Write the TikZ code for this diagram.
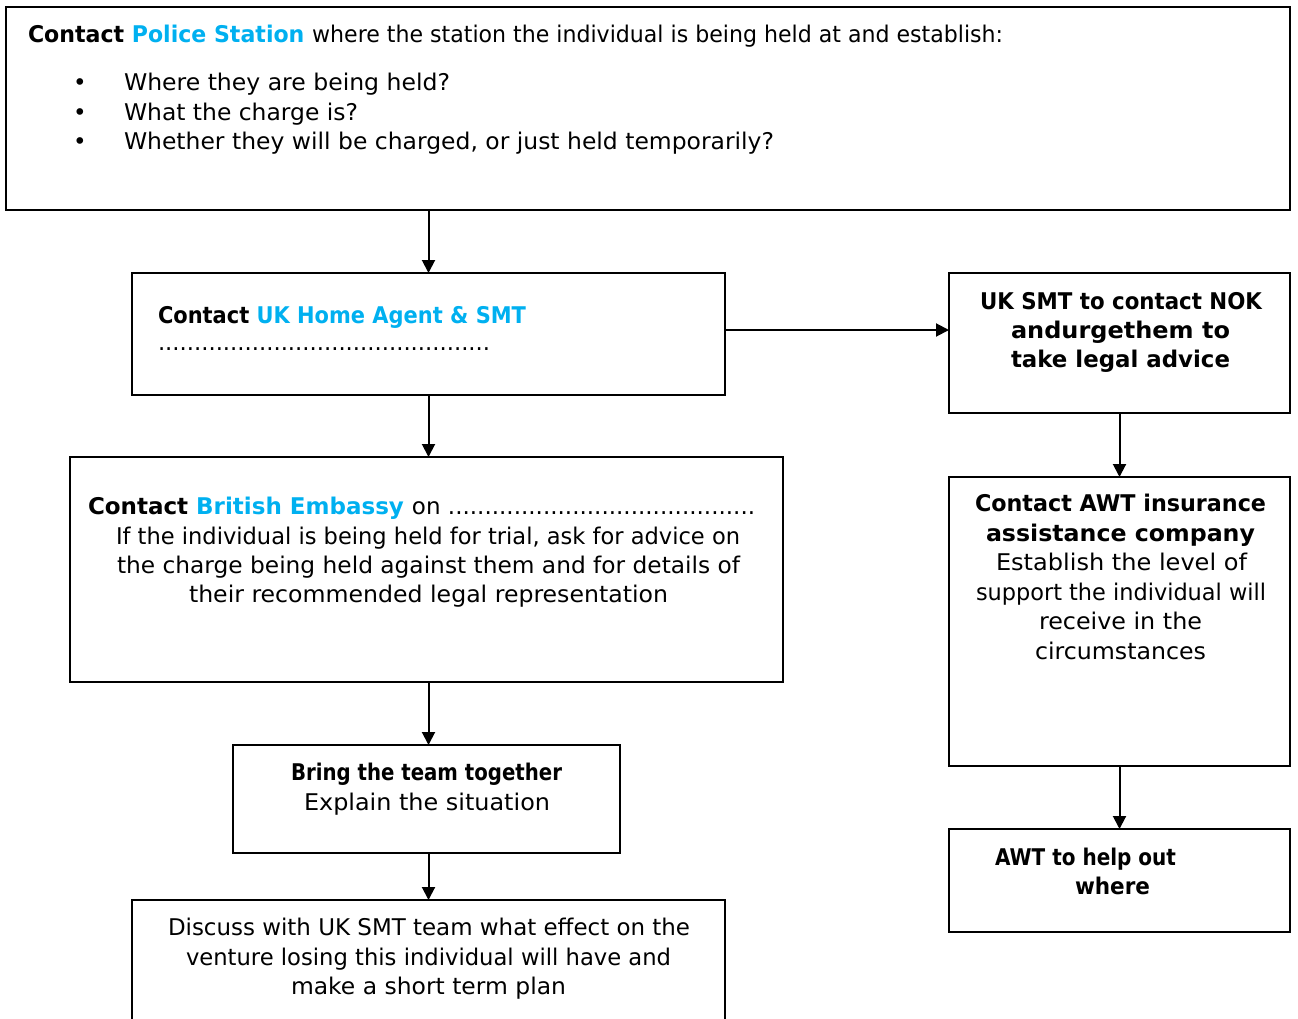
\documentclass[tikz,border=0pt]{standalone}
\usepackage{fontspec}
\setmainfont{DejaVu Sans}
\usetikzlibrary{arrows.meta}
\definecolor{linkblue}{HTML}{00B0F0}
% set a line of text to a given width (in pt), keeping its height
\newcommand\fitto[2]{\resizebox{#1pt}{\height}{#2}}

\begin{document}
\begin{tikzpicture}[x=1pt,y=-1pt,
  box/.style={draw, line width=2.2pt, anchor=north west, inner sep=0pt, outer sep=0pt},
  txt/.style={anchor=base west, inner sep=0pt, outer sep=0pt, font=\fontsize{23}{28}\selectfont},
  bul/.style={anchor=base, inner sep=0pt, outer sep=0pt, font=\fontsize{23}{28}\selectfont},
  arr/.style={line width=2pt, -{Triangle[width=13pt,length=13pt]}}]

\useasboundingbox (0,0) rectangle (1298,1019);
\begin{scope}
\clip (0,0) rectangle (1298,1019);

% boxes
\node[box, minimum width=1284pt, minimum height=203pt] (top)   at (6,7) {};
\node[box, minimum width=593pt,  minimum height=122pt] (home)  at (132,273) {};
\node[box, minimum width=341pt,  minimum height=140pt] (nok)   at (949,273) {};
\node[box, minimum width=713pt,  minimum height=225pt] (emb)   at (70,457) {};
\node[box, minimum width=341pt,  minimum height=289pt] (awt)   at (949,477) {};
\node[box, minimum width=387pt,  minimum height=108pt] (bring) at (233,745) {};
\node[box, minimum width=593pt,  minimum height=140pt] (disc)  at (132,900) {};
\node[box, minimum width=341pt,  minimum height=103pt] (help)  at (949,829) {};

% connectors
\draw[arr] (home.north |- top.south) -- (home.north);
\draw[arr] (home.south) -- (home.south |- emb.north);
\draw[arr] (home.south |- emb.south) -- (home.south |- bring.north);
\draw[arr] (home.south |- bring.south) -- (disc.north);
\draw[arr] ([yshift=4pt]home.east) -- ([yshift=4pt]home.east -| nok.west);
\draw[arr] (nok.south) -- (awt.north);
\draw[arr] (awt.south) -- (help.north);

% police station
\node[txt] (t1) at (28,43) {\fitto{975}{\bfseries Contact \textcolor{linkblue}{Police Station} \mdseries where the station the individual is being held at and establish:}};
\node[bul] (b1) at (80,91)  {•};
\node[bul] (b2) at (80,121) {•};
\node[bul] (b3) at (80,150) {•};
\node[txt] (t2) at (124,91)  {\fitto{326}{Where they are being held?}};
\node[txt] (t3) at (124,121) {\fitto{234}{What the charge is?}};
\node[txt] (t4) at (124,150) {\fitto{650}{Whether they will be charged, or just held temporarily?}};

% home agent
\node[txt] (t5) at (158,323) {\fitto{368}{\bfseries Contact \textcolor{linkblue}{UK Home Agent \& SMT}}};
\node[txt] (t6) at (158,350) {\fitto{332}{..............................................}};

% next of kin
\node[txt] (t7) at (980,309)  {\fitto{282}{\bfseries UK SMT to contact NOK}};
\node[txt] (t8) at (1011,338) {\fitto{219}{\bfseries andurgethem to}};
\node[txt] (t9) at (1011,367) {\fitto{219}{\bfseries take legal advice}};

% embassy
\node[txt] (t10) at (88,514)  {\fitto{667}{\bfseries Contact \textcolor{linkblue}{British Embassy} \mdseries on ..........................................}};
\node[txt] (t11) at (116,544) {\fitto{624}{If the individual is being held for trial, ask for advice on}};
\node[txt] (t12) at (117,573) {\fitto{623}{the charge being held against them and for details of}};
\node[txt] (t13) at (189,602) {\fitto{479}{their recommended legal representation}};

% insurance
\node[txt] (t14) at (975,511)  {\fitto{291}{\bfseries Contact AWT insurance}};
\node[txt] (t15) at (986,541)  {\fitto{269}{\bfseries assistance company}};
\node[txt] (t16) at (996,570)  {\fitto{251}{Establish the level of}};
\node[txt] (t17) at (976,600)  {\fitto{290}{support the individual will}};
\node[txt] (t18) at (1039,629) {\fitto{163}{receive in the}};
\node[txt] (t19) at (1035,659) {\fitto{171}{circumstances}};

% team
\node[txt] (t20) at (291,780) {\fitto{271}{\bfseries Bring the team together}};
\node[txt] (t21) at (304,810) {\fitto{246}{Explain the situation}};

% discussion
\node[txt] (t22) at (168,935) {\fitto{522}{Discuss with UK SMT team what effect on the}};
\node[txt] (t23) at (186,965) {\fitto{485}{venture losing this individual will have and}};
\node[txt] (t24) at (291,994) {\fitto{275}{make a short term plan}};

% help
\node[txt] (t25) at (995,865)  {\fitto{181}{\bfseries AWT to help out}};
\node[txt] (t26) at (1075,894) {\fitto{75}{\bfseries where}};
\end{scope}
\end{tikzpicture}
\end{document}
